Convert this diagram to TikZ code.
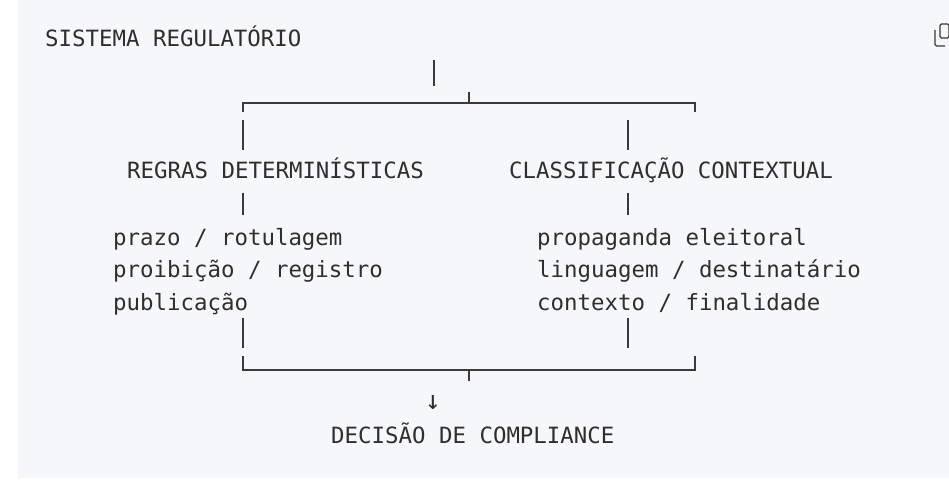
\documentclass[tikz,border=0pt]{standalone}
\usepackage{fontspec}
\setmonofont{DejaVu Sans Mono}
\usetikzlibrary{positioning}
\definecolor{bgcode}{HTML}{F6F7F9}
\definecolor{txtcode}{HTML}{2E2E2E}
\definecolor{linecode}{HTML}{3A3A3A}
\tikzset{
  ascii/.style={anchor=base west, inner sep=0pt, text=txtcode,
    font=\fontsize{22.4}{26}\selectfont\ttfamily},
  box/.style={draw=linecode, line width=1.1pt}
}
\begin{document}
\begin{tikzpicture}[x=1pt,y=-1pt]
\useasboundingbox (0,0) rectangle (949,502);
\fill[bgcode] (18,0) rectangle (949,478);
% copy icon
\draw[linecode, line width=1.2pt, rounded corners=1.5pt] (940,24) rectangle (949,38);
\draw[linecode, line width=1.2pt, rounded corners=1.5pt] (935,30) -- (935,46) -- (945,46);
% texts
\node (sistema) [ascii] at (45,47) {SISTEMA REGULATÓRIO};
\node (regras) [ascii] at (127,179) {REGRAS DETERMINÍSTICAS};
\node (classif) [ascii] at (509,179) {CLASSIFICAÇÃO CONTEXTUAL};
\node (l1) [ascii] at (113,246) {prazo / rotulagem};
\node (l2) [ascii] at (113,278) {proibição / registro};
\node (l3) [ascii] at (113,310) {publicação};
\node (r1) [ascii] at (537,246) {propaganda eleitoral};
\node (r2) [ascii] at (537,278) {linguagem / destinatário};
\node (r3) [ascii] at (537,310) {contexto / finalidade};
\node (seta) [ascii, font=\fontsize{26}{28}\selectfont\ttfamily] at (425,409) {↓};
\node (decisao) [ascii] at (331,443) {DECISÃO DE COMPLIANCE};
% top fork
\draw[box] (434,60) -- (434,86);
\draw[box] (243,112) |- (695,103) -- (695,112);
\draw[box] (469,92) -- (469,103);
\draw[box] (243,120) -- (243,150);
\draw[box] (628,120) -- (628,150);
\draw[box] (243,193) -- (243,215);
\draw[box] (628,193) -- (628,215);
% bottom join
\draw[box] (243,318) -- (243,348);
\draw[box] (628,318) -- (628,348);
\draw[box] (243,356) |- (695,370) -- (695,356);
\draw[box] (469,370) -- (469,381);
\end{tikzpicture}
\end{document}
